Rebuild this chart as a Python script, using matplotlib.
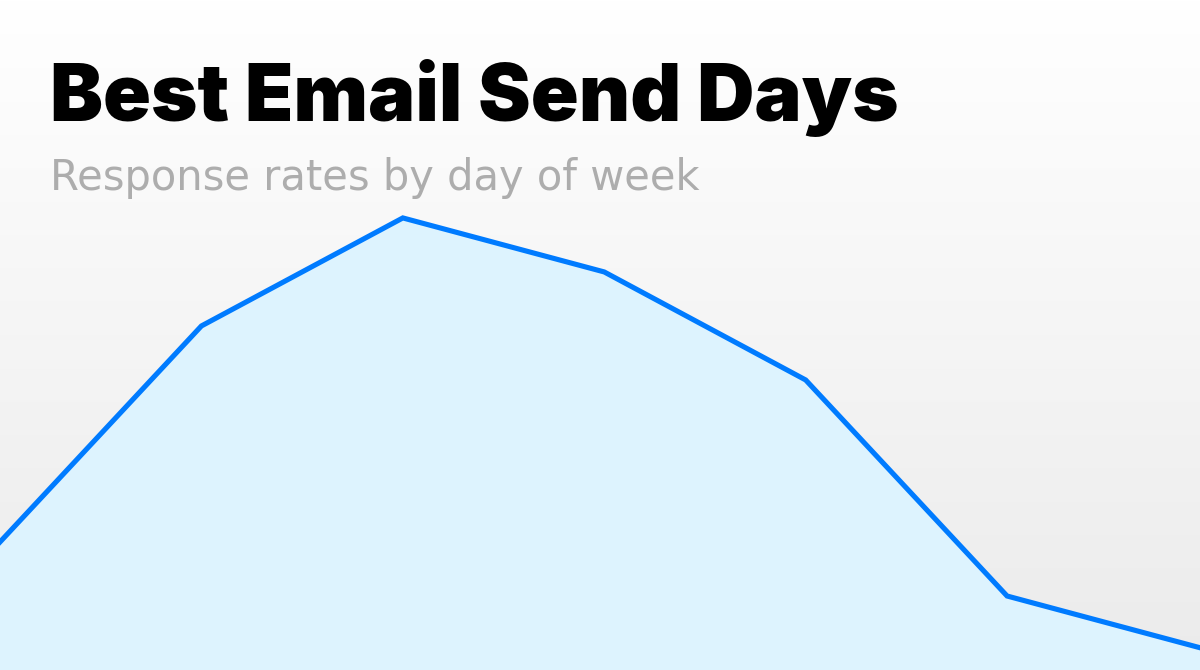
import matplotlib
matplotlib.use("Agg")
import matplotlib.pyplot as plt
import numpy as np
from matplotlib.colors import LinearSegmentedColormap

days = ["Mon", "Tue", "Wed", "Thu", "Fri", "Sat", "Sun"]
response_rate = [12, 20, 24, 22, 18, 10, 8]

title = "Best Email Send Days"
subtitle = "Response rates by day of week"

W, H, DPI = 1200, 670, 100
fig = plt.figure(figsize=(W / DPI, H / DPI), dpi=DPI)

# background gradient
bg = fig.add_axes([0, 0, 1, 1], zorder=0)
grad = np.linspace(0, 1, 256).reshape(-1, 1)
cmap = LinearSegmentedColormap.from_list("bg", ["#ffffff", "#ebebeb"])
bg.imshow(grad, aspect="auto", cmap=cmap, extent=[0, 1, 0, 1], origin="upper")
bg.set_axis_off()

ax = fig.add_axes([0, 0, 1, 1], zorder=1)
ax.patch.set_alpha(0)
x = np.arange(len(days))
ymin = 7.26
ax.fill_between(x, response_rate, ymin - 1, color="#ddf3fe", lw=0)
ax.plot(x, response_rate, color="#007bff", lw=3.7, solid_joinstyle="miter")
ax.set_xlim(0, 6 * 1200 / 1208.5)
ax.set_ylim(ymin, 32.07)
ax.set_axis_off()

fig.text(50 / W, 1 - 121 / H, title, fontsize=57, fontweight="black",
         family=["Inter", "DejaVu Sans"], color="#000000", va="baseline", ha="left", zorder=5)
fig.text(50 / W, 1 - 190 / H, subtitle, fontsize=30, fontweight="normal",
         family=["DejaVu Sans"], color="#adadad", va="baseline", ha="left", zorder=5)

fig.savefig("out.png", dpi=DPI)
